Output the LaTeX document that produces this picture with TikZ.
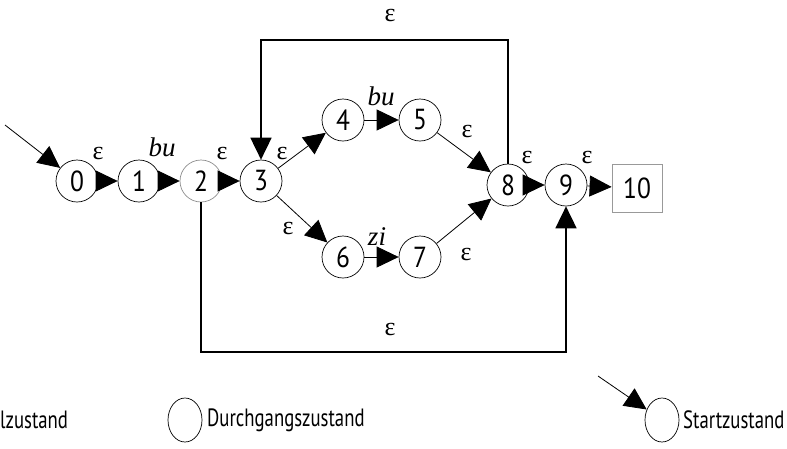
\documentclass[tikz,border=0pt]{standalone}
\usepackage{fontspec}
\setmainfont{PT Sans}
\newfontfamily\grk{Liberation Serif}
\newfontfamily\legfont[FakeStretch=0.75]{PT Sans}
\newfontfamily\digfont[FakeStretch=0.88]{PT Sans}
\usetikzlibrary{arrows.meta,shapes.geometric}
\begin{document}
\begin{tikzpicture}[x=1pt,y=-1pt,
  st/.style={draw,circle,minimum size=42pt,inner sep=0pt,line width=0.7pt,font=\digfont\fontsize{29}{29}\selectfont},
  fin/.style={draw=black!40,rectangle,minimum width=50pt,minimum height=48pt,inner sep=0pt,line width=0.8pt,font=\digfont\fontsize{29}{29}\selectfont},
  tr/.style={line width=0.8pt,-{Triangle[length=22pt,width=21pt]}},
  lp/.style={line width=1.8pt,-{Triangle[length=22pt,width=21pt]}},
  eps/.style={font=\grk\fontsize{26}{26}\selectfont,inner sep=0pt},
  sym/.style={font=\grk\itshape\fontsize{27}{27}\selectfont,inner sep=0pt},
  leg/.style={font=\legfont\fontsize{25}{25}\selectfont,inner sep=0pt,anchor=west},
  lel/.style={draw,ellipse,minimum width=34pt,minimum height=44pt,inner sep=0pt,line width=0.7pt}]
\useasboundingbox (0,0) rectangle (787,448);
\node[st] (n0) at (77,181) {0};
\node[st] (n1) at (139,181) {1};
\node[st,draw=black!45] (n2) at (201,181) {2};
\node[st] (n3) at (261,181) {3};
\node[st] (n4) at (343,120) {4};
\node[st] (n5) at (420,120) {5};
\node[st] (n6) at (343,257) {6};
\node[st] (n7) at (420,257) {7};
\node[st] (n8) at (508,185) {8};
\node[st] (n9) at (566,185) {9};
\node[fin] (n10) at (637,188) {10};
\coordinate (s0) at (5,125);
\coordinate (top) at (0,40);
\coordinate (bot) at (0,352);
\draw[tr] (s0) -- (n0);
\draw[tr] (n0) -- (n1);
\draw[tr] (n1) -- (n2);
\draw[tr] (n2) -- (n3);
\draw[tr] (n3) -- (n4);
\draw[tr] (n3) -- (n6);
\draw[tr] (n4) -- (n5);
\draw[tr] (n6) -- (n7);
\draw[tr] (n5) -- (n8);
\draw[tr] (n7) -- (n8);
\draw[tr] (n8) -- (n9);
\draw[tr] (n9) -- (n10);
\draw[lp] (n8.north) -- (n8.north |- top) -| (n3.north);
\draw[lp] (n2.south) -- (n2.south |- bot) -| (n9.south);
\node[eps] (e1) at (98,153) {ε};
\node[sym] (l1) at (162,147) {bu};
\node[eps] (e2) at (222,153) {ε};
\node[eps] (e3) at (282,153) {ε};
\node[sym] (l2) at (381,96) {bu};
\node[eps] (e4) at (467,131) {ε};
\node[eps] (e5) at (288,228) {ε};
\node[sym] (l3) at (377,237) {zi};
\node[eps] (e6) at (466,254) {ε};
\node[eps] (e7) at (527,157) {ε};
\node[eps] (e8) at (587,157) {ε};
\node[eps] (e9) at (390,15) {ε};
\node[eps] (e10) at (390,329) {ε};
% legend
\node[leg] (t1) at (0,420) {lzustand};
\node[lel] (c1) at (185,420) {};
\node[leg] (t2) at (207,420) {Durchgangszustand};
\coordinate (s1) at (598,376);
\node[lel] (c2) at (662,420) {};
\draw[tr] (s1) -- (c2);
\node[leg] (t3) at (683,420) {Startzustand};
\end{tikzpicture}
\end{document}
